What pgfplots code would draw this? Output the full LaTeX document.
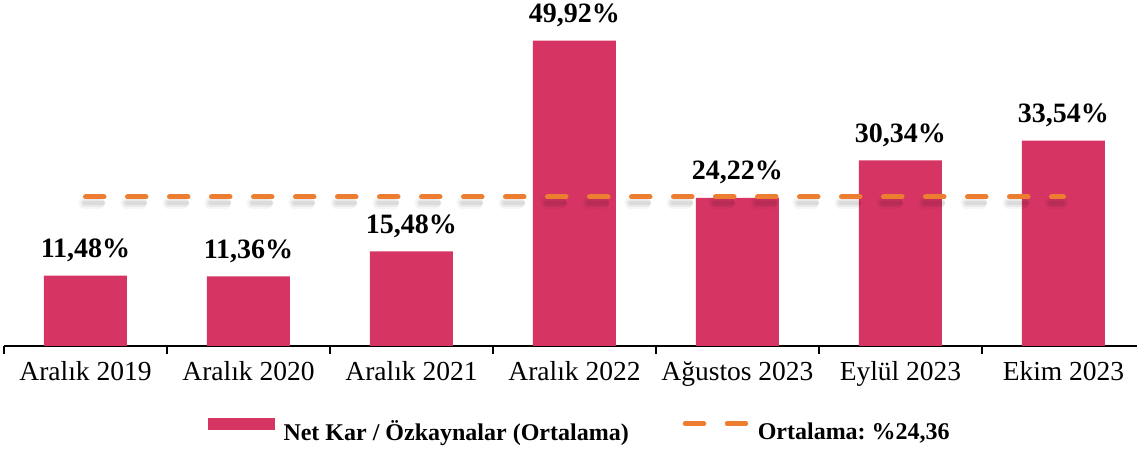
\documentclass[border=0pt]{standalone}
\usepackage{fontspec}
\setmainfont{Liberation Serif}
\usepackage{pgfplots}
\usepackage{pgfplotstable}
\pgfplotsset{compat=1.18}
\definecolor{barcol}{RGB}{214,52,99}
\definecolor{avgcol}{RGB}{237,125,49}

\pgfplotstableread{
x y
0 11.48
1 11.36
2 15.48
3 49.92
4 24.22
5 30.34
6 33.54
}\bardata

\begin{document}
\begin{tikzpicture}[x=1pt,y=1pt]
\useasboundingbox (-4,-103) rectangle (1133,346);
\begin{axis}[
  at={(0,0)}, anchor=south west,
  scale only axis, width=1141pt, height=342.7pt,
  xmin=-0.5, xmax=6.5, ymin=0, ymax=56,
  clip=false,
  axis x line=bottom, axis y line=none,
  x axis line style={-, line width=1.6pt, black},
  xtick={0,...,6},
  xticklabels={Aralık 2019, Aralık 2020, Aralık 2021, Aralık 2022, Ağustos 2023, Eylül 2023, Ekim 2023},
  major tick length=0pt,
  tick align=outside,
  extra x ticks={-0.5,0.5,1.5,2.5,3.5,4.5,5.5,6.5},
  extra x tick labels={},
  extra x tick style={major tick length=8pt, tick style={line width=1.4pt, black}},
  ytick=\empty,
  xticklabel style={font=\fontsize{27.5}{33}\selectfont, yshift=-12pt},
  legend style={at={(0.5045,-0.248)}, anchor=center, draw=none, fill=none,
    font=\bfseries\fontsize{24}{29}\selectfont,
    /tikz/every odd column/.append style={column sep=7pt},
    /tikz/every even column/.append style={column sep=52pt}},
  legend columns=2,
]
\addplot[ybar, bar width=83pt, fill=barcol, draw=none,
  nodes near coords={\pgfmathprintnumber[fixed, fixed zerofill, precision=2, use comma, assume math mode=true]{\pgfplotspointmeta}\%},
  every node near coord/.append style={font=\bfseries\fontsize{28}{34}\selectfont, anchor=base, yshift=18pt, inner sep=0pt, black},
  legend image code/.code={\fill[barcol] (0pt,1.8pt) rectangle (67pt,13.8pt);}
] table[x=x,y=y] {\bardata};
\addlegendentry{Net Kar / Özkaynalar (Ortalama)}

\addplot[forget plot, black, opacity=0.035, line width=12pt, line cap=round, dash pattern=on 14.5pt off 27.5pt, xshift=-1pt, yshift=-6pt] coordinates {(0,24.36) (6,24.36)};
\addplot[forget plot, black, opacity=0.05, line width=8pt, line cap=round, dash pattern=on 16.5pt off 25.5pt, xshift=-1pt, yshift=-6pt] coordinates {(0,24.36) (6,24.36)};
\addplot[forget plot, black, opacity=0.06, line width=4pt, line cap=round, dash pattern=on 18.5pt off 23.5pt, xshift=-1pt, yshift=-6pt] coordinates {(0,24.36) (6,24.36)};

\addplot[avgcol, line width=5pt, line cap=round, dash pattern=on 18.5pt off 23.5pt,
  legend image code/.code={\draw[avgcol, line width=5pt, line cap=round, dash pattern=on 18.5pt off 23.5pt] (2.5pt,7.8pt) -- (63.5pt,7.8pt);}
] coordinates {(0,24.36) (6,24.36)};
\addlegendentry{Ortalama:\ \%24,36}
\end{axis}
\end{tikzpicture}
\end{document}
